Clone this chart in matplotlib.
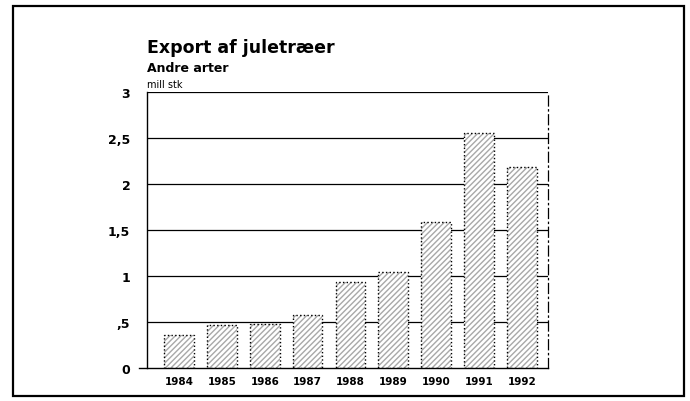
import matplotlib.pyplot as plt
from matplotlib.patches import Rectangle

# Data
years = ['1984', '1985', '1986', '1987', '1988', '1989', '1990', '1991', '1992']
values = [0.36, 0.47, 0.48, 0.58, 0.93, 1.04, 1.59, 2.55, 2.18]
ytick_vals = [0, 0.5, 1, 1.5, 2, 2.5, 3]
ytick_labels = ['0', ',5', '1', '1,5', '2', '2,5', '3']

plt.rcParams['font.family'] = ['DejaVu Sans']

fig = plt.figure(figsize=(6.9, 4.02), dpi=100)
ax = fig.add_axes([0.213, 0.082, 0.581, 0.687])

# outer frame
fig.patches.append(Rectangle((0.019, 0.012), 0.972, 0.971, transform=fig.transFigure,
                             fill=False, edgecolor='black', linewidth=1.6))

x = list(range(len(years)))

# gridlines
for v in ytick_vals[1:]:
    ax.axhline(v, color='black', linewidth=0.9, zorder=1)

# bars: hatched fill + dotted outline
ax.bar(x, values, width=0.69, color='white', edgecolor='#a8a8a8', hatch='//////',
       linewidth=0, zorder=2)
ax.bar(x, values, width=0.69, fill=False, edgecolor='black', linestyle=':',
       linewidth=1.0, zorder=3)

ax.set_xlim(-0.75, len(years) - 0.39)
ax.set_ylim(0, 3)
ax.set_xticks(x)
ax.set_xticklabels(years, fontsize=7.5, fontweight='bold')
ax.set_yticks(ytick_vals)
ax.set_yticklabels(ytick_labels, fontsize=9, fontweight='bold')
ax.tick_params(axis='x', length=0, pad=6)
ax.tick_params(axis='y', length=0, pad=12)

for s in ['top', 'bottom']:
    ax.spines[s].set_visible(False)
ax.spines['left'].set_linewidth(1.0)
ax.spines['right'].set_linestyle((0, (8, 3, 1, 3)))
ax.spines['right'].set_linewidth(0.9)

# base line extending a little to the left
ax.plot([-0.93, len(years) - 0.39], [0, 0], color='black', linewidth=1.0,
        clip_on=False, zorder=4)

# titles
fig.text(0.213, 0.868, 'Export af juletræer', fontsize=12.5, fontweight='bold',
         ha='left', va='baseline')
fig.text(0.213, 0.82, 'Andre arter', fontsize=9, fontweight='bold', ha='left', va='baseline')
fig.text(0.213, 0.78, 'mill stk', fontsize=7, ha='left', va='baseline')

plt.savefig('out.png', dpi=100)
